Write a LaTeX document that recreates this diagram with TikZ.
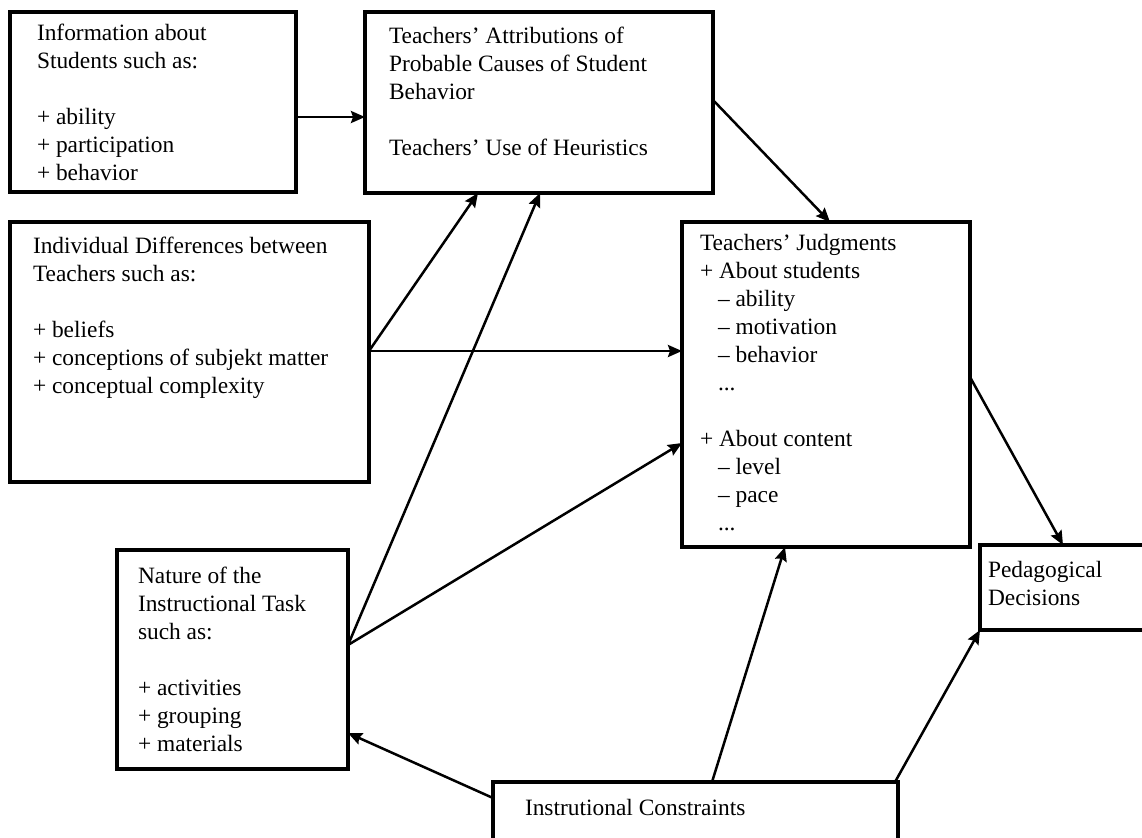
\documentclass[tikz,border=0pt]{standalone}
\usepackage{fontspec}
\setmainfont{Liberation Serif}
\usetikzlibrary{arrows.meta,calc}
\begin{document}
\begin{tikzpicture}[x=0.5pt,y=-0.5pt,
  boxnode/.style={draw, line width=1.7pt, inner sep=0pt, outer sep=0pt, anchor=north west},
  txt/.style={anchor=base west, inner sep=0pt, outer sep=0pt, font=\fontsize{11.7pt}{14pt}\selectfont},
  conn/.style={line width=1.25pt, -{Stealth[length=7pt,width=6pt,inset=1pt]}}]
\useasboundingbox (0,0) rectangle (1142,837);
\clip (0,0) rectangle (1142,837);
% boxes
\node[boxnode, minimum width=143pt, minimum height=90pt] (b1) at (10,12) {};
\node[boxnode, minimum width=174pt, minimum height=90.5pt] (b2) at (365,12) {};
\node[boxnode, minimum width=179.5pt, minimum height=130pt] (b3) at (10,222) {};
\node[boxnode, minimum width=144pt, minimum height=162.5pt] (b4) at (682,222) {};
\node[boxnode, minimum width=115.5pt, minimum height=109.5pt] (b5) at (117,550) {};
\node[boxnode, minimum width=85pt, minimum height=42.5pt] (pd) at (980,545) {};
\node[boxnode, minimum width=202.5pt, minimum height=34pt] (ic) at (493,782) {};
% texts
\node[txt] (t1) at (37,40) {\begin{tabular}[t]{@{}l@{}}Information about\\Students such as:\\ \\+ ability\\+ participation\\+ behavior\end{tabular}};
\node[txt] (t2) at (389,43) {\begin{tabular}[t]{@{}l@{}}Teachers’ Attributions of\\Probable Causes of Student\\Behavior\\ \\Teachers’ Use of Heuristics\end{tabular}};
\node[txt] (t3) at (33,253) {\begin{tabular}[t]{@{}l@{}}Individual Differences between\\Teachers such as:\\ \\+ beliefs\\+ conceptions of subjekt matter\\+ conceptual complexity\end{tabular}};
\node[txt] (t4) at (700,250) {\begin{tabular}[t]{@{}l@{}}Teachers’ Judgments\\+ About students\\\hspace*{9pt}– ability\\\hspace*{9pt}– motivation\\\hspace*{9pt}– behavior\\\hspace*{9pt}...\\ \\+ About content\\\hspace*{9pt}– level\\\hspace*{9pt}– pace\\\hspace*{9pt}...\end{tabular}};
\node[txt] (t5) at (138,583) {\begin{tabular}[t]{@{}l@{}}Nature of the\\Instructional Task\\such as:\\ \\+ activities\\+ grouping\\+ materials\end{tabular}};
\node[txt] (t6) at (988,577) {\begin{tabular}[t]{@{}l@{}}Pedagogical\\Decisions\end{tabular}};
\node[txt] (t7) at (525,815) {Instrutional Constraints};
% connectors
\draw[conn] ($(b1.north east)+(0,105)$) -- ($(b2.north west)+(0,105)$);
\draw[conn] ($(b2.north east)+(0,88)$) -- ($(b4.north west)+(148,0)$);
\draw[conn] ($(b3.north east)+(0,129)$) -- ($(b2.south west)+(113,0)$);
\draw[conn] ($(b3.north east)+(0,129)$) -- ($(b4.north west)+(0,129)$);
\draw[conn] ($(b5.north east)+(0,95)$) -- ($(b2.south west)+(175,0)$);
\draw[conn] ($(b5.north east)+(0,95)$) -- ($(b4.north west)+(0,221)$);
\draw[conn] ($(b4.north east)+(0,155)$) -- ($(pd.north west)+(83,0)$);
\draw[conn] ($(ic.north west)+(219,0)$) -- ($(b4.south west)+(103,0)$);
\draw[conn] ($(ic.north west)+(402,0)$) -- (pd.south west);
\draw[conn] ($(ic.north west)+(0,16)$) -- ($(b5.north east)+(0,183)$);
\end{tikzpicture}
\end{document}
